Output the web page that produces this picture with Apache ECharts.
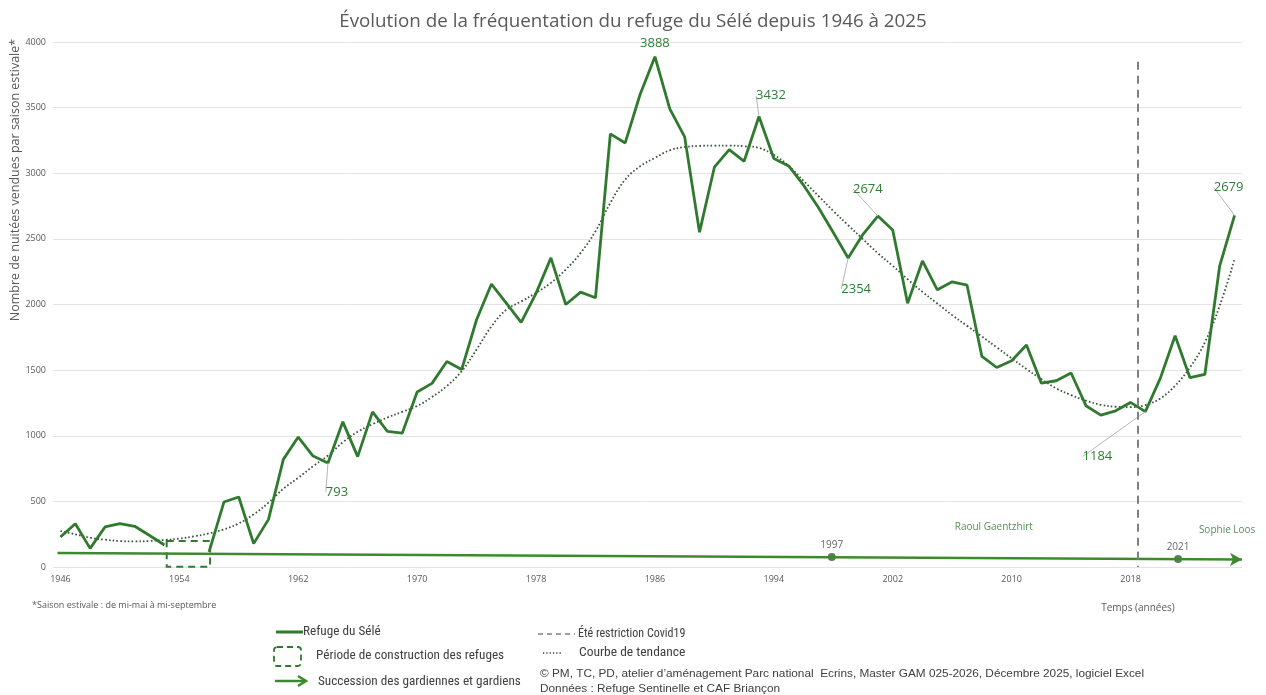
<!DOCTYPE html>
<html>
<head>
<meta charset="utf-8">
<script src="https://cdn.jsdelivr.net/npm/echarts@6/dist/echarts.min.js"></script>
<style>
  html, body { margin: 0; padding: 0; background: #fff; }
  #chart { width: 1266px; height: 695px; }
</style>
</head>
<body>
<div id="chart"></div>
<script>
// années 1946 -> 2025 (axe des catégories)
var annees = [];
for (var a = 1946; a <= 2025; a++) annees.push(String(a));

// nuitées vendues par saison estivale, null = pas de données
var frequentation = [
  228, 330, 142, 305, 330, 310, 240, 168, null, null,
  115, 495, 533, 178, 363, 820, 990, 845, 793, 1106,
  841, 1182, 1033, 1020, 1333, 1399, 1566, 1505, 1884, 2156,
  2010, 1864, 2085, 2355, 2000, 2094, 2051, 3300, 3231, 3600,
  3888, 3490, 3277, 2551, 3046, 3180, 3091, 3432, 3112, 3056,
  2909, 2739, 2548, 2354, 2535, 2674, 2568, 2010, 2332, 2112,
  2173, 2147, 1604, 1520, 1571, 1691, 1401, 1419, 1478, 1229,
  1157, 1190, 1254, 1184, 1437, 1762, 1442, 1467, 2295, 2679
];

// courbe de tendance (pointillés)
var tendance = [
  274, 249, 223, 208, 198, 195, 198, 206, 216, 234,
  256, 287, 332, 401, 490, 596, 680, 768, 849, 950,
  1030, 1088, 1139, 1182, 1227, 1295, 1379, 1492, 1657, 1833,
  1960, 2023, 2089, 2165, 2266, 2393, 2558, 2774, 2952, 3053,
  3117, 3175, 3200, 3208, 3211, 3211, 3206, 3193, 3140, 3056,
  2942, 2827, 2713, 2604, 2497, 2391, 2294, 2193, 2096, 2008,
  1919, 1838, 1756, 1673, 1590, 1508, 1432, 1361, 1310, 1267,
  1236, 1221, 1218, 1234, 1284, 1381, 1521, 1711, 1991, 2346
];

// frise des gardiens : début / fin de la flèche, changements de gardiens
var friseDebut = [1945.8, 106];
var friseFin = [2025.5, 58];
var gardiensAnnees = ['1997', '2021'];
var gardiensPos = [[1997.9, 76], [2021.2, 61]];
var gardiensNoms = ['Raoul Gaentzhirt', 'Sophie Loos'];
var gardiensNomsPos = [[2008.8, 305], [2024.5, 282]];

// période de construction des refuges (cadre pointillé)
var constructionX = [1953.15, 1956.07];
var constructionY = [198, 2];

// été restriction Covid19 (trait vertical)
var covidX = 2018.5;
var covidY = [3850, 0];

// décalage des étiquettes de valeurs (par année)
var etiquettes = {
  '1964': [9, 29], '1986': [0, -13], '1993': [12, -21], '1999': [8, 31],
  '2001': [-10, -27], '2019': [-48, 45], '2025': [-6, -28]
};

var vert = '#2f7a2f';
var gris = '#595959';
var sans = '"Open Sans", "Liberation Sans", sans-serif';
var narrow = '"Liberation Sans Narrow", "Roboto Condensed", "Liberation Sans", sans-serif';

var dataRefuge = frequentation.map(function (v, i) {
  if (etiquettes[annees[i]] && v != null) {
    return { value: v, label: { show: true }, labelLine: { show: annees[i] !== '1986' } };
  }
  return v;
});

var chart = echarts.init(document.getElementById('chart'));
chart.setOption({
  animation: false,
  title: {
    text: 'Évolution de la fréquentation du refuge du Sélé depuis 1946 à 2025',
    left: 'center',
    top: 7,
    textStyle: { fontSize: 18.8, fontWeight: 'normal', color: gris, fontFamily: sans }
  },
  grid: { left: 53, right: 24, top: 42, bottom: 128 },
  xAxis: [{
    type: 'category',
    data: annees,
    boundaryGap: true,
    axisLine: { show: false },
    axisTick: { show: false },
    axisLabel: { interval: 7, fontSize: 9, color: gris, margin: 8, fontFamily: sans },
    splitLine: { show: false }
  }, {
    type: 'value',
    min: 1945.5,
    max: 2025.5,
    show: false
  }],
  yAxis: {
    type: 'value',
    min: 0,
    max: 4000,
    interval: 500,
    axisLine: { show: false },
    axisTick: { show: false },
    axisLabel: { fontSize: 9, color: gris, margin: 7, fontFamily: sans, formatter: function (v) { return String(v); } },
    splitLine: { lineStyle: { color: '#e3e3e3', width: 1 } }
  },
  series: [{
    name: 'Courbe de tendance',
    type: 'line',
    data: tendance,
    smooth: 0.4,
    symbol: 'none',
    lineStyle: { color: '#3a553a', width: 1.8, type: [1.6, 2.2] },
    z: 2
  }, {
    name: 'Refuge du Sélé',
    type: 'line',
    data: dataRefuge,
    symbol: 'circle',
    symbolSize: 0,
    showSymbol: true,
    showAllSymbol: true,
    connectNulls: false,
    lineStyle: { color: vert, width: 2.8 },
    itemStyle: { color: vert },
    label: { show: false, position: 'inside', color: '#2f7d32', fontSize: 13, fontFamily: sans },
    labelLayout: function (p) {
      var d = etiquettes[annees[p.dataIndex]];
      return d ? { dx: d[0], dy: d[1] } : {};
    },
    labelLine: { show: true, lineStyle: { color: '#b5b5b5', width: 1 } },
    z: 3
  }, {
    name: 'Succession des gardiennes et gardiens',
    type: 'scatter',
    xAxisIndex: 1,
    data: gardiensPos.map(function (p, i) { return { name: gardiensAnnees[i], value: p }; }),
    symbolSize: 8,
    itemStyle: { color: '#2d5e2d' },
    label: { show: true, position: 'top', distance: 3, formatter: '{b}', fontSize: 10, color: '#404040', fontFamily: sans },
    markLine: {
      silent: true,
      symbol: ['none', 'arrow'],
      symbolSize: [10, 12],
      label: { show: false },
      lineStyle: { color: '#3d8a2e', width: 2.5, type: 'solid' },
      data: [[{ coord: friseDebut }, { coord: friseFin }]]
    },
    markArea: {
      silent: true,
      itemStyle: { color: 'rgba(0,0,0,0)', borderColor: vert, borderWidth: 2, borderType: [7, 5] },
      data: [[{ coord: [constructionX[0], constructionY[0]] }, { coord: [constructionX[1], constructionY[1]] }]]
    },
    z: 4
  }, {
    name: 'Été restriction Covid19',
    type: 'scatter',
    xAxisIndex: 1,
    data: gardiensNomsPos.map(function (p, i) { return { name: gardiensNoms[i], value: p }; }),
    symbolSize: 0,
    label: { show: true, position: 'inside', formatter: '{b}', fontSize: 10, color: '#2f6f2f', fontFamily: sans },
    markLine: {
      silent: true,
      symbol: ['none', 'none'],
      label: { show: false },
      lineStyle: { color: '#808080', width: 2, type: [8, 6] },
      data: [[{ coord: [covidX, covidY[0]] }, { coord: [covidX, covidY[1]] }]]
    },
    z: 1
  }],
  graphic: [
    { type: 'text', x: 15, y: 180, rotation: Math.PI / 2,
      style: { text: 'Nombre de nuitées vendues par saison estivale*', fill: gris, fontSize: 12.5, fontFamily: sans, textAlign: 'center', textVerticalAlign: 'middle' } },
    { type: 'text', x: 32, y: 605,
      style: { text: '*Saison estivale : de mi-mai à mi-septembre', fill: gris, fontSize: 9, fontFamily: sans, textVerticalAlign: 'middle' } },
    { type: 'text', x: 1138, y: 608,
      style: { text: 'Temps (années)', fill: gris, fontSize: 10, fontFamily: sans, textAlign: 'center', textVerticalAlign: 'middle' } },

    // légende, colonne de gauche
    { type: 'line', shape: { x1: 276, y1: 632, x2: 303, y2: 632 }, style: { stroke: vert, lineWidth: 3 } },
    { type: 'text', x: 303, y: 632, style: { text: 'Refuge du Sélé', fill: '#404040', fontSize: 13.2, fontFamily: narrow, textVerticalAlign: 'middle' } },
    { type: 'rect', shape: { x: 274, y: 647, width: 27, height: 19, r: 3 }, style: { fill: 'none', stroke: vert, lineWidth: 1.8, lineDash: [6, 4] } },
    { type: 'text', x: 316, y: 656, style: { text: 'Période de construction des refuges', fill: '#404040', fontSize: 13.2, fontFamily: narrow, textVerticalAlign: 'middle' } },
    { type: 'line', shape: { x1: 275, y1: 681, x2: 304, y2: 681 }, style: { stroke: '#3d8a2e', lineWidth: 2.5 } },
    { type: 'polyline', shape: { points: [[298, 676], [306, 681], [298, 686]] }, style: { fill: 'none', stroke: '#3d8a2e', lineWidth: 2.5 } },
    { type: 'text', x: 318, y: 682, style: { text: 'Succession des gardiennes et gardiens', fill: '#404040', fontSize: 13.2, fontFamily: narrow, textVerticalAlign: 'middle' } },

    // légende, colonne de droite
    { type: 'line', shape: { x1: 538, y1: 634, x2: 575, y2: 634 }, style: { stroke: '#808080', lineWidth: 1.5, lineDash: [5, 4] } },
    { type: 'text', x: 578, y: 634, style: { text: 'Été restriction Covid19', fill: '#404040', fontSize: 12, fontFamily: narrow, textVerticalAlign: 'middle' } },
    { type: 'line', shape: { x1: 543, y1: 653, x2: 562, y2: 653 }, style: { stroke: '#404040', lineWidth: 1.4, lineDash: [1.3, 2] } },
    { type: 'text', x: 579, y: 653, style: { text: 'Courbe de tendance', fill: '#404040', fontSize: 13.5, fontFamily: narrow, textVerticalAlign: 'middle' } },
    { type: 'text', x: 540, y: 674, style: { text: '© PM, TC, PD, atelier d\u2019aménagement Parc national  Ecrins, Master GAM 025-2026, Décembre 2025, logiciel Excel', fill: '#404040', fontSize: 11.8, fontFamily: '"Liberation Sans", sans-serif', textVerticalAlign: 'middle' } },
    { type: 'text', x: 540, y: 689, style: { text: 'Données : Refuge Sentinelle et CAF Briançon', fill: '#404040', fontSize: 11.8, fontFamily: '"Liberation Sans", sans-serif', textVerticalAlign: 'middle' } }
  ]
});
</script>
</body>
</html>
